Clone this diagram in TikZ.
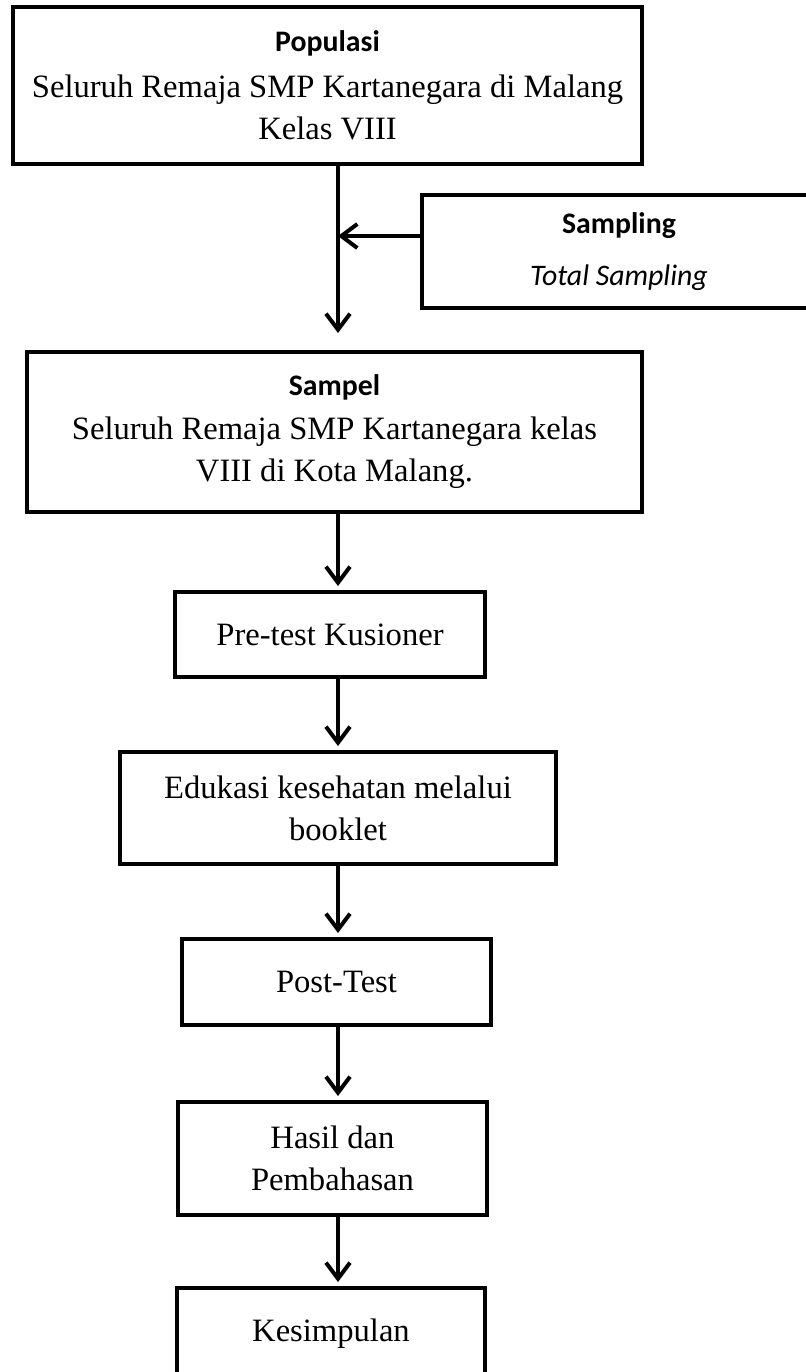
\documentclass[tikz,border=0pt]{standalone}
\usepackage{fontspec}
\setmainfont{Liberation Serif}
\newfontfamily\calibri{Carlito}
\usetikzlibrary{arrows.meta}
\tikzset{ box/.style = { rectangle
                       , draw
                       , line width   = 2pt
                       , inner sep    = 0pt
                       , align        = center
                       , font         = \fontsize{16.3}{21}\selectfont
                       },
          arr/.style = { draw
                       , line width   = 2pt
                       , -{Straight Barb[length=8pt,width=12pt]}
                       , shorten >=2pt
                       }
        }
\newcommand{\boxtitle}[1]{{\calibri\bfseries\fontsize{14.9}{18}\selectfont #1}}

\begin{document}
\begin{tikzpicture}[x=0.5pt,y=-0.5pt]
            \useasboundingbox (0,0) rectangle (806,1372);
            % main column of boxes
            \node[box, minimum width=314.5pt, minimum height=78.5pt] (pop) at (327.5,85.5)
                {\boxtitle{Populasi}\\[2pt]
                 Seluruh Remaja SMP Kartanegara di Malang\\ Kelas VIII};
            \node[box, minimum width=197pt, minimum height=56.5pt] (samp) at (619,251.5)
                {\boxtitle{Sampling}\\[5pt]
                 {\calibri\itshape\fontsize{14.9}{18}\selectfont Total Sampling}};
            \node[box, minimum width=307.5pt, minimum height=80pt] (sampel) at (334.5,432)
                {\boxtitle{Sampel}\\[1pt]
                 Seluruh Remaja SMP Kartanegara kelas\\ VIII di Kota Malang.};
            \node[box, minimum width=155pt, minimum height=42.5pt] (pre) at (330,634.5)
                {Pre-test Kusioner};
            \node[box, minimum width=218pt, minimum height=56pt] (edu) at (338,808)
                {Edukasi kesehatan melalui\\ booklet};
            \node[box, minimum width=154.5pt, minimum height=43pt] (post) at (336.5,982)
                {Post-Test};
            \node[box, minimum width=154.5pt, minimum height=56.5pt] (hasil) at (332.5,1158.5)
                {Hasil dan\\ Pembahasan};
            \node[box, minimum width=154pt, minimum height=46pt] (kes) at (331,1334)
                {Kesimpulan};
            % arrow line and junction of the side arrow
            \coordinate (ax) at (338,0);
            \coordinate (sj) at (338,236);
            \draw[arr, shorten >=8.5pt] (pop.south -| ax) -- (sampel.north -| ax);
            \draw[arr, shorten >=0pt] (samp.west |- sj) -- (sj);
            \draw[arr] (sampel.south -| ax) -- (pre.north -| ax);
            \draw[arr] (pre.south -| ax) -- (edu.north -| ax);
            \draw[arr] (edu.south -| ax) -- (post.north -| ax);
            \draw[arr] (post.south -| ax) -- (hasil.north -| ax);
            \draw[arr] (hasil.south -| ax) -- (kes.north -| ax);
\end{tikzpicture}
\end{document}
